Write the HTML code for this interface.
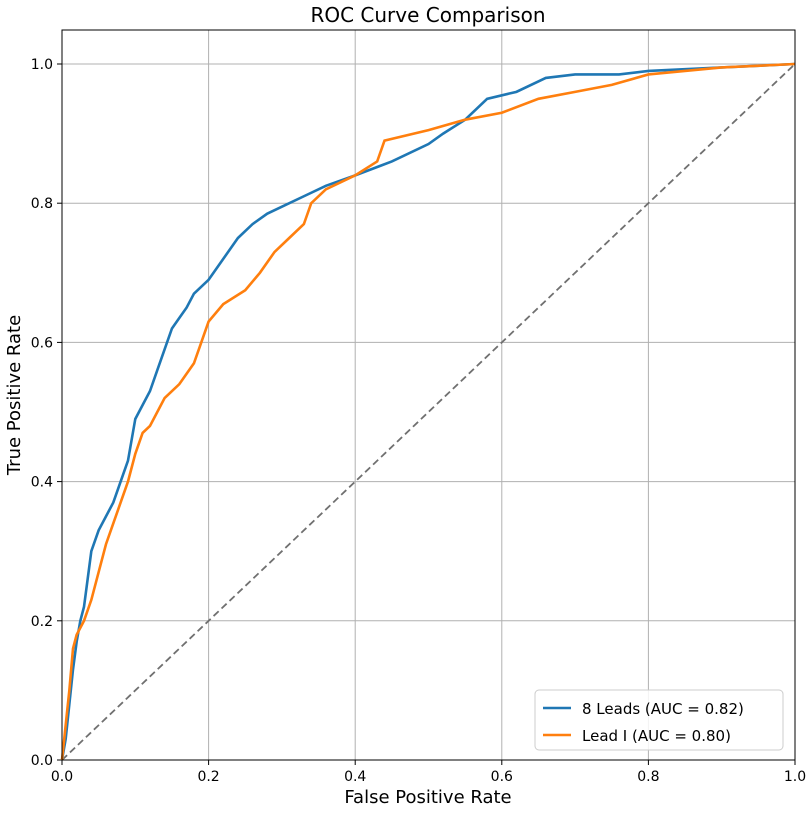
<!DOCTYPE html>
<html><head><meta charset="utf-8"><style>
body{margin:0;background:#fff}
svg text{font-family:"DejaVu Sans","Liberation Sans",sans-serif;fill:#000}
</style></head><body>
<svg id="chart" width="810" height="809" viewBox="0 0 810 809" xmlns="http://www.w3.org/2000/svg">
<rect width="810" height="809" fill="#fff"/>
<g id="grid"></g>
<g id="ticks"></g>
<line id="diag" stroke="#707070" stroke-width="1.8" stroke-dasharray="7,4"/>
<polyline id="blue" fill="none" stroke="#1f77b4" stroke-width="2.6"/>
<polyline id="orange" fill="none" stroke="#ff7f0e" stroke-width="2.6"/>
<rect x="62" y="30" width="733" height="730" fill="none" stroke="#000" stroke-width="1"/>
<text x="428" y="22" font-size="20" text-anchor="middle">ROC Curve Comparison</text>
<text x="428" y="803" font-size="18" text-anchor="middle">False Positive Rate</text>
<text transform="translate(20,395) rotate(-90)" font-size="18" text-anchor="middle">True Positive Rate</text>
<g>
<rect x="535" y="690" width="248" height="60" rx="4" fill="#fff" fill-opacity="0.85" stroke="#ccc"/>
<line x1="543" y1="708" x2="571" y2="708" stroke="#1f77b4" stroke-width="2.6"/>
<text x="582" y="714" font-size="15">8 Leads (AUC = 0.82)</text>
<line x1="543" y1="735" x2="571" y2="735" stroke="#ff7f0e" stroke-width="2.6"/>
<text x="582" y="741" font-size="15">Lead I (AUC = 0.80)</text>
</g>
</svg>
<script>
const blueFpr=[0,0.005,0.01,0.015,0.02,0.025,0.03,0.035,0.04,0.05,0.06,0.07,0.08,0.09,0.1,0.11,0.12,0.13,0.14,0.15,0.16,0.17,0.18,0.2,0.22,0.24,0.26,0.28,0.3,0.33,0.36,0.4,0.45,0.5,0.52,0.55,0.58,0.62,0.66,0.7,0.76,0.8,0.9,1];
const blueTpr=[0,0.03,0.08,0.13,0.17,0.2,0.22,0.26,0.3,0.33,0.35,0.37,0.4,0.43,0.49,0.51,0.53,0.56,0.59,0.62,0.635,0.65,0.67,0.69,0.72,0.75,0.77,0.785,0.795,0.81,0.825,0.84,0.86,0.885,0.9,0.92,0.95,0.96,0.98,0.985,0.985,0.99,0.995,1];
const orangeFpr=[0,0.01,0.015,0.02,0.03,0.04,0.05,0.06,0.07,0.08,0.09,0.1,0.11,0.12,0.13,0.14,0.16,0.18,0.19,0.2,0.22,0.25,0.27,0.29,0.31,0.33,0.34,0.36,0.4,0.43,0.44,0.5,0.55,0.6,0.65,0.7,0.75,0.8,0.9,1];
const orangeTpr=[0,0.1,0.16,0.18,0.2,0.23,0.27,0.31,0.34,0.37,0.4,0.44,0.47,0.48,0.5,0.52,0.54,0.57,0.6,0.63,0.655,0.675,0.7,0.73,0.75,0.77,0.8,0.82,0.84,0.86,0.89,0.905,0.92,0.93,0.95,0.96,0.97,0.985,0.995,1];
const tickVals=[0,0.2,0.4,0.6,0.8,1.0];
const tickLabels=["0.0","0.2","0.4","0.6","0.8","1.0"];
const X=v=>62+v*733, Y=v=>760-v*696;
const NS="http://www.w3.org/2000/svg";
const grid=document.getElementById('grid'), ticks=document.getElementById('ticks');
function mk(p,tag,a){const e=document.createElementNS(NS,tag);for(const k in a)e.setAttribute(k,a[k]);p.appendChild(e);return e;}
tickVals.forEach((v,i)=>{
 const gx=mk(grid,'line',{x1:X(v),x2:X(v),y1:30,y2:760,stroke:'#b0b0b0','stroke-width':1});
 
 
 const gy=mk(grid,'line',{x1:62,x2:795,y1:Y(v),y2:Y(v),stroke:'#b0b0b0','stroke-width':1});
 
 
 mk(ticks,'line',{x1:X(v),x2:X(v),y1:760,y2:765,stroke:'#000'});
 mk(ticks,'line',{x1:57,x2:62,y1:Y(v),y2:Y(v),stroke:'#000'});
 const tx=mk(ticks,'text',{x:X(v),y:781,'font-size':14,'text-anchor':'middle'});tx.textContent=tickLabels[i];
 
 
 const ty=mk(ticks,'text',{x:53,y:Y(v)+5,'font-size':14,'text-anchor':'end'});ty.textContent=tickLabels[i];
 
 
});
const d=document.getElementById('diag');
d.setAttribute('x1',X(0));d.setAttribute('y1',Y(0));d.setAttribute('x2',X(1));d.setAttribute('y2',Y(1));
document.getElementById('blue').setAttribute('points',blueFpr.map((f,i)=>X(f)+','+Y(blueTpr[i])).join(' '));
document.getElementById('orange').setAttribute('points',orangeFpr.map((f,i)=>X(f)+','+Y(orangeTpr[i])).join(' '));
</script>
</body></html>
